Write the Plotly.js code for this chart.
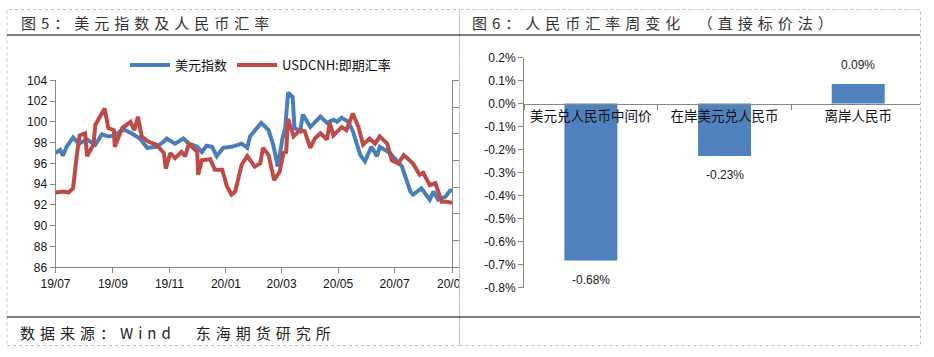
<!DOCTYPE html>
<html>
<head>
<meta charset="utf-8">
<script src="https://cdn.plot.ly/plotly-3.0.1.min.js"></script>
<style>
html,body{margin:0;padding:0;background:#fff;overflow:hidden}
.spaced .annotation-text{}
</style>
</head>
<body>
<div id="chart" style="width:934px;height:357px"></div>
<script>
// ---- Figure 5 data (day offset from 2019-07-01, index value) ----
const startDate = '2019-07-01';
const dollarDays = [0,5,8,12,19,25,34,43,50,57,64,73,82,91,99,109,117,120,129,138,144,153,158,163,169,174,181,190,201,207,210,215,222,230,235,240,245,248,251,256,258,264,267,275,280,286,293,300,304,309,316,321,329,334,341,347,350,356,361,368,374,383,386,395,404,408,413,421,426,428];
const dollarValues = [97.0,97.3,96.75,97.6,98.5,97.9,98.3,97.8,98.8,98.6,98.7,99.3,98.9,98.4,97.5,97.6,98.1,98.4,97.9,98.4,97.9,97.6,97.1,97.7,97.6,96.7,97.5,97.6,97.9,97.5,98.6,99.1,99.9,99.2,97.8,95.7,98.4,99.4,102.8,102.4,99.4,99.1,100.7,99.5,100,100.5,99.9,100.2,100,100.4,100,99.1,96.8,96.2,97.6,96.7,97.6,97.3,97,96.3,95.7,93.3,93,93.6,92.5,93.3,92.5,92.8,93.4,93.4];
const cnhDays = [0,9,14,19,23,26,32,34,41,43,48,53,57,63,64,72,81,85,89,93,100,109,117,119,124,129,136,140,144,153,154,158,167,172,180,185,190,194,201,207,215,221,224,230,236,242,246,249,251,257,264,269,275,280,286,293,296,300,309,314,321,327,332,339,345,350,358,363,370,376,386,393,397,404,410,417,422,428];
const cnhValues = [93.2,93.3,93.2,93.6,96.8,98.7,98.9,96.7,97.8,99.7,100.5,101.3,99.4,99.2,97.6,99.4,100,99.2,100.5,98.6,98.1,97.8,97,95.5,97,96.5,97.1,96.7,97.9,97.1,94.9,96.3,96.4,95.4,95.4,93.8,93,93.3,95.9,96.7,95.7,96,97.5,96.8,94.4,95.2,97,97.1,100.3,98.6,99.2,99.1,97.5,98.4,98.9,98.3,99.9,98.7,99.5,99.2,100.8,99.5,97.8,98.4,97.9,98.6,97.9,96.3,96,96.8,96,94.9,95.1,93.9,94.1,92.3,92.3,92.2];
const dollarName = '美元指数';
const cnhName = 'USDCNH:即期汇率';
const leftTickVals = ['2019-07-01','2019-09-01','2019-11-01','2020-01-01','2020-03-01','2020-05-01','2020-07-01','2020-09-01'];
const leftTickText = ['19/07','19/09','19/11','20/01','20/03','20/05','20/07','20/09'];

// ---- Figure 6 data ----
const rmbCategories = ['美元兑人民币中间价','在岸美元兑人民币','离岸人民币'];
const rmbValues = [-0.683,-0.228,0.085];
const rmbLabels = ['-0.68%','-0.23%','0.09%'];
const rightTickVals = [0.2,0.1,0,-0.1,-0.2,-0.3,-0.4,-0.5,-0.6,-0.7,-0.8];
const rightTickText = ['0.2%','0.1%','0.0%','-0.1%','-0.2%','-0.3%','-0.4%','-0.5%','-0.6%','-0.7%','-0.8%'];

// ---- Text ----
const title5 = '图5：美元指数及人民币汇率';
const title6 = '图6：人民币汇率周变化\u3000（直接标价法）';
const sourceText = '数据来源：Wind\u3000东海期货研究所';

const W = 934, H = 357;
const px = v => v / W, py = v => 1 - v / H;
const toDate = d => {
  const t = new Date(Date.parse(startDate + 'T00:00:00Z') + d * 86400000);
  return t.toISOString().slice(0, 10);
};
const tickFont = {family: '"Liberation Sans", Arial, sans-serif', size: 12, color: '#111'};
const cjkFont = '"Noto Sans CJK SC", "Liberation Sans", sans-serif';
const axisGrey = '#868686';

const traces = [
  {type: 'scatter', mode: 'lines', name: dollarName, x: dollarDays.map(toDate), y: dollarValues,
   line: {color: '#4a7ebb', width: 4}, xaxis: 'x', yaxis: 'y'},
  {type: 'scatter', mode: 'lines', name: cnhName, x: cnhDays.map(toDate), y: cnhValues,
   line: {color: '#be4b48', width: 4}, xaxis: 'x', yaxis: 'y'},
  {type: 'scatter', mode: 'lines', x: [], y: [], showlegend: false, xaxis: 'x', yaxis: 'y3'},
  {type: 'bar', x: rmbCategories, y: rmbValues, width: 0.396, marker: {color: '#4f81bd'},
   showlegend: false, xaxis: 'x2', yaxis: 'y2'}
];

const titleAnn = (text, x, y, size, color) => ({
  text, x: px(x), y: py(y), xref: 'paper', yref: 'paper', xanchor: 'left', yanchor: 'middle',
  showarrow: false, align: 'left', font: {family: cjkFont, size, color},
  captureevents: false
});
const annotations = [
  titleAnn(title5, 19, 23, 15, '#333'),
  titleAnn(title6, 470, 23, 15, '#333'),
  titleAnn(sourceText, 18, 332, 15, '#222')
];
rmbCategories.forEach((c, i) => {
  annotations.push({
    text: rmbLabels[i], x: c, y: rmbValues[i], xref: 'x2', yref: 'y2', showarrow: false,
    xanchor: 'center', yanchor: 'middle', yshift: rmbValues[i] < 0 ? -19 : 19,
    font: {family: tickFont.family, size: 12, color: '#222'}
  });
});

const frame = {type: 'rect', xref: 'paper', yref: 'paper', line: {color: '#c0c0c0', width: 1, dash: 'dot'}};
const shapes = [
  // clips the last tick label at the panel edge, as in the source image
  {type: 'rect', xref: 'paper', yref: 'paper', x0: px(459), x1: px(470), y0: py(300), y1: py(270), fillcolor: '#fff', line: {width: 0}, layer: 'above'},
  Object.assign({}, frame, {x0: px(7), x1: px(459.5), y0: py(345.5), y1: py(9.5)}),
  Object.assign({}, frame, {x0: px(459.5), x1: px(920.5), y0: py(345.5), y1: py(9.5)}),
  {type: 'line', xref: 'paper', yref: 'paper', x0: px(7), x1: px(920), y0: py(35), y1: py(35), line: {color: '#000', width: 1}},
  {type: 'line', xref: 'paper', yref: 'paper', x0: px(7), x1: px(920), y0: py(317), y1: py(317), line: {color: '#000', width: 1}}
];

const layout = {
  width: W, height: H, margin: {l: 0, r: 0, t: 0, b: 0, pad: 0},
  paper_bgcolor: '#fff', plot_bgcolor: 'rgba(0,0,0,0)',
  showlegend: true,
  legend: {orientation: 'h', x: px(125), y: py(50), xanchor: 'left', yanchor: 'top',
    font: {family: cjkFont, size: 13, color: '#111'}, itemwidth: 40, bgcolor: 'rgba(0,0,0,0)', traceorder: 'normal'},
  bargap: 0.6,
  xaxis: {domain: [px(55.5), px(452)], anchor: 'y', type: 'date', range: ['2019-07-01', '2020-09-01'],
    tickmode: 'array', tickvals: leftTickVals, ticktext: leftTickText, ticks: 'outside', ticklen: 5,
    tickcolor: axisGrey, showline: true, linecolor: axisGrey, linewidth: 1, showgrid: false, zeroline: false, tickfont: tickFont},
  yaxis: {domain: [py(267.3), py(80.3)], anchor: 'x', range: [86, 104], tickmode: 'linear', tick0: 86, dtick: 2,
    ticks: 'outside', ticklen: 5, tickcolor: axisGrey, showline: true, linecolor: axisGrey, linewidth: 1,
    showgrid: false, zeroline: false, tickfont: tickFont},
  yaxis3: {domain: [py(267.3), py(80.3)], anchor: 'x', overlaying: 'y', side: 'right', range: [0, 7], tickmode: 'linear', tick0: 0, dtick: 1,
    ticks: 'outside', ticklen: 6, tickcolor: axisGrey, showline: true, linecolor: axisGrey, linewidth: 1,
    showgrid: false, zeroline: false, showticklabels: false},
  xaxis2: {domain: [px(524), px(920)], anchor: 'free', position: py(103.5), type: 'category', range: [-0.5, 2.462],
    tickson: 'boundaries', ticks: 'outside', ticklen: 5, tickcolor: axisGrey, showline: true, linecolor: axisGrey, linewidth: 1,
    showgrid: false, zeroline: false, tickfont: {family: cjkFont, size: 13.5, color: '#111'}, tickangle: 0},
  yaxis2: {domain: [py(287.5), py(57.5)], anchor: 'x2', range: [-0.8, 0.2], tickmode: 'array', tickvals: rightTickVals, ticktext: rightTickText,
    ticks: 'outside', ticklen: 5, tickcolor: axisGrey, showline: true, linecolor: axisGrey, linewidth: 1,
    showgrid: false, zeroline: false, tickfont: tickFont},
  annotations, shapes
};

Plotly.newPlot('chart', traces, layout, {staticPlot: true, displayModeBar: false}).then(() => {
  document.querySelectorAll('.annotation-text').forEach(t => {
    if (/图|数据来源/.test(t.textContent)) t.style.letterSpacing = '5px';
  });
});
</script>
</body>
</html>
